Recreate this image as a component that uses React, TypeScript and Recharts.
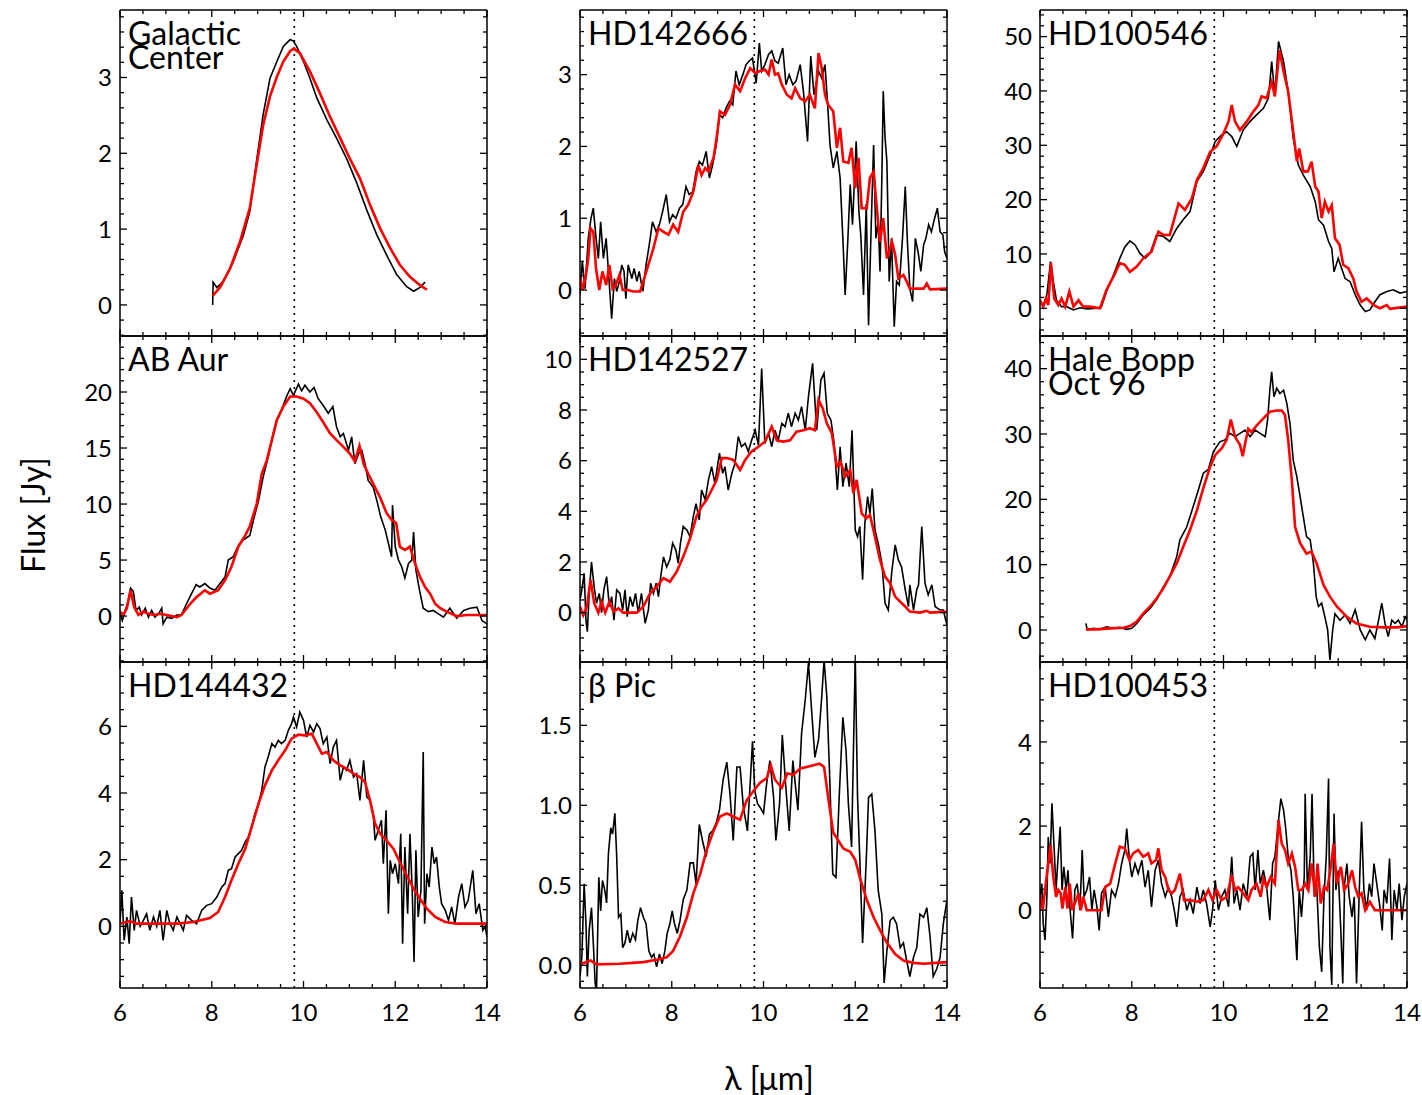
import React from 'react';
import { LineChart, Line, XAxis, YAxis, ReferenceLine } from 'recharts';

type Pt = [number, number];

// wavelength axis (micron) and the dotted marker at the 9.8 micron feature
const wavelengthTicks = [6, 8, 10, 12, 14];
const featurePeak = 9.8;

// ---- Galactic Center ----
const gcObs: Pt[] = [
  [8.02, 0], [8.03, 0.3], [8.11, 0.23], [8.25, 0.31], [8.47, 0.57], [8.69, 0.92], [8.83, 1.23], [8.98, 1.91],
  [9.12, 2.51], [9.27, 2.99], [9.42, 3.21], [9.56, 3.41], [9.71, 3.5], [9.78, 3.48], [9.85, 3.41], [10.0, 3.21],
  [10.14, 2.99], [10.29, 2.73], [10.51, 2.44], [10.72, 2.2], [10.94, 1.93], [11.16, 1.61], [11.38, 1.25],
  [11.6, 0.92], [11.81, 0.66], [12.03, 0.4], [12.25, 0.24], [12.4, 0.18], [12.54, 0.23], [12.65, 0.3],
];
const gcModel: Pt[] = [
  [8.02, 0.12], [8.18, 0.23], [8.4, 0.48], [8.62, 0.84], [8.83, 1.28], [8.98, 1.85], [9.12, 2.37], [9.27, 2.75],
  [9.42, 3.01], [9.56, 3.21], [9.71, 3.35], [9.79, 3.38], [9.92, 3.32], [10.14, 3.08], [10.36, 2.79], [10.58, 2.48],
  [10.8, 2.2], [11.01, 1.93], [11.23, 1.67], [11.45, 1.32], [11.67, 1.01], [11.89, 0.75], [12.1, 0.53],
  [12.32, 0.37], [12.54, 0.26], [12.69, 0.2],
];

// ---- HD142666 ----
const hd142666Obs: Pt[] = [
  [6.0, -0.07], [6.05, 0.4], [6.11, 0.02], [6.18, 0.72], [6.24, 1.0], [6.29, 1.14], [6.35, 0.72], [6.4, 0.44],
  [6.45, 0.95], [6.51, 0.44], [6.57, 0.72], [6.62, 0.26], [6.69, -0.4], [6.75, 0.16], [6.8, -0.02], [6.86, 0.12],
  [6.91, 0.35], [6.96, 0.26], [7.0, -0.12], [7.05, 0.35], [7.13, 0.16], [7.18, 0.3], [7.24, 0.12], [7.29, 0.26],
  [7.37, -0.02], [7.44, 0.35], [7.51, 0.63], [7.58, 0.95], [7.66, 0.81], [7.73, 0.91], [7.8, 1.09], [7.88, 1.33],
  [7.95, 0.95], [8.02, 1.05], [8.09, 1.0], [8.17, 1.14], [8.24, 1.19], [8.31, 1.44], [8.38, 1.33], [8.46, 1.37],
  [8.53, 1.65], [8.6, 1.79], [8.67, 1.74], [8.75, 1.93], [8.82, 1.56], [8.89, 1.74], [8.97, 2.02], [9.04, 2.44],
  [9.11, 2.4], [9.18, 2.53], [9.26, 2.63], [9.33, 2.58], [9.4, 3.05], [9.47, 2.86], [9.55, 3.0], [9.62, 3.14],
  [9.69, 3.19], [9.76, 3.23], [9.84, 2.88], [9.91, 3.44], [9.96, 3.05], [10.03, 3.14], [10.11, 3.28],
  [10.18, 3.33], [10.25, 3.19], [10.32, 3.16], [10.42, 3.37], [10.49, 2.86], [10.56, 3.0], [10.64, 2.86],
  [10.71, 2.91], [10.8, 3.14], [10.87, 2.77], [10.96, 2.07], [11.03, 3.26], [11.1, 2.72], [11.2, 3.05],
  [11.27, 2.95], [11.34, 3.14], [11.39, 2.67], [11.45, 2.02], [11.52, 1.7], [11.6, 1.93], [11.67, 1.56],
  [11.73, 0.72], [11.78, -0.07], [11.84, 0.72], [11.89, 1.47], [11.94, 0.91], [12.02, 2.07], [12.08, 1.09],
  [12.12, 0.77], [12.18, -0.07], [12.24, 1.19], [12.29, -0.49], [12.34, 0.72], [12.4, 2.02], [12.45, 0.72],
  [12.5, 0.95], [12.54, 0.26], [12.58, 1.56], [12.61, 2.77], [12.65, 2.12], [12.69, 1.79], [12.74, 0.12],
  [12.79, 0.72], [12.85, -0.51], [12.9, 0.12], [12.96, 0.07], [13.03, 0.72], [13.09, 1.44], [13.14, 0.63],
  [13.19, 0.02], [13.25, -0.16], [13.31, 0.72], [13.37, 0.53], [13.43, 0.26], [13.49, 0.63], [13.54, 0.72],
  [13.6, 0.91], [13.66, 0.81], [13.73, 1.0], [13.79, 1.14], [13.85, 0.81], [13.91, 0.77], [13.95, 0.53], [14.0, 0.44],
];
const hd142666Model: Pt[] = [
  [6.0, 0.19], [6.06, 0], [6.13, 0.21], [6.18, 0.44], [6.23, 0.86], [6.29, 0.81], [6.35, 0.3], [6.42, 0],
  [6.49, 0.26], [6.57, 0.07], [6.64, 0.35], [6.71, 0.02], [6.78, 0.07], [6.86, 0.21], [6.93, 0], [7.05, 0],
  [7.16, -0.02], [7.31, -0.02], [7.38, 0.12], [7.49, 0.35], [7.6, 0.58], [7.71, 0.86], [7.82, 0.81], [7.93, 0.77],
  [8.03, 0.91], [8.14, 0.81], [8.25, 1.09], [8.36, 1.19], [8.47, 1.37], [8.58, 1.74], [8.65, 1.6], [8.73, 1.7],
  [8.8, 1.65], [8.91, 1.84], [8.98, 2.12], [9.05, 2.49], [9.16, 2.44], [9.27, 2.58], [9.38, 2.86], [9.49, 2.77],
  [9.6, 2.95], [9.71, 3.09], [9.82, 3.02], [9.92, 3.05], [10.03, 3.07], [10.11, 3.0], [10.18, 3.21], [10.25, 3.0],
  [10.32, 3.02], [10.4, 2.86], [10.51, 2.72], [10.61, 2.67], [10.69, 2.81], [10.8, 2.67], [10.91, 2.63],
  [11.01, 2.72], [11.12, 2.53], [11.2, 3.3], [11.27, 3.09], [11.34, 2.72], [11.41, 2.58], [11.52, 2.49],
  [11.6, 1.98], [11.67, 2.26], [11.74, 1.79], [11.85, 1.77], [11.92, 1.98], [12.0, 1.42], [12.07, 1.84],
  [12.14, 1.14], [12.25, 1.14], [12.32, 1.56], [12.4, 1.65], [12.47, 1.14], [12.54, 0.67], [12.61, 1.0],
  [12.69, 0.44], [12.8, 0.67], [12.87, 0.49], [12.94, 0.16], [13.05, 0.21], [13.12, 0.12], [13.19, 0.02],
  [13.49, 0.02], [13.56, 0.09], [13.63, 0.01], [14.0, 0.02],
];

// ---- HD100546 ----
const hd100546Obs: Pt[] = [
  [6.0, 1.5], [6.07, 0.3], [6.15, 2.5], [6.23, 8.6], [6.29, 4.9], [6.36, 1.5], [6.47, 0.3], [6.58, 0.3],
  [6.73, -0.3], [6.87, 0.1], [7.02, -0.1], [7.24, 0], [7.34, 0.3], [7.45, 3.1], [7.6, 6.1], [7.74, 9.2],
  [7.85, 11.3], [7.96, 12.4], [8.07, 11.7], [8.18, 10.1], [8.29, 9.2], [8.4, 10.1], [8.54, 13.5], [8.69, 13.2],
  [8.83, 12.3], [8.98, 14.7], [9.12, 16.3], [9.27, 17.8], [9.42, 23.3], [9.56, 25.2], [9.71, 28.2], [9.82, 30.7],
  [9.96, 31.9], [10.07, 32.5], [10.18, 31.6], [10.29, 29.8], [10.43, 32.8], [10.58, 34.4], [10.72, 35.6],
  [10.87, 36.8], [10.98, 38.7], [11.05, 45.4], [11.12, 39.3], [11.2, 49.1], [11.31, 45.4], [11.41, 39.9],
  [11.52, 31.3], [11.63, 26.4], [11.74, 24.5], [11.89, 22.4], [12.0, 19.6], [12.07, 16.3], [12.18, 15.3],
  [12.29, 12.3], [12.36, 11.0], [12.41, 6.7], [12.5, 9.2], [12.65, 5.5], [12.76, 4.9], [12.87, 2.5], [12.98, 0.6],
  [13.09, -0.6], [13.19, -0.3], [13.3, 1.2], [13.41, 2.5], [13.56, 3.1], [13.7, 3.4], [13.85, 2.8], [14.0, 3.1],
];
const hd100546Model: Pt[] = [
  [6.0, 1.5], [6.07, 0.3], [6.13, 1.8], [6.18, 0.6], [6.24, 8.3], [6.31, 1.8], [6.4, 0.6], [6.47, 1.8], [6.55, 0.3],
  [6.64, 3.1], [6.73, 0.3], [6.84, 1.5], [6.94, 0.3], [7.09, 0.3], [7.31, 0], [7.45, 3.4], [7.6, 5.8], [7.74, 8.3],
  [7.85, 8.0], [7.96, 6.7], [8.11, 7.7], [8.25, 9.2], [8.43, 10.4], [8.58, 14.1], [8.69, 13.5], [8.83, 13.5],
  [9.02, 19.3], [9.16, 18.1], [9.31, 20.2], [9.42, 23.6], [9.56, 25.8], [9.71, 28.8], [9.85, 29.8], [10.0, 32.2],
  [10.11, 34.4], [10.18, 37.4], [10.25, 34.4], [10.36, 32.8], [10.51, 34.4], [10.65, 36.2], [10.76, 37.4],
  [10.83, 39.0], [10.94, 38.7], [11.05, 41.7], [11.12, 39.0], [11.22, 47.5], [11.31, 43.6], [11.41, 39.9],
  [11.52, 32.5], [11.6, 27.0], [11.65, 29.4], [11.74, 25.2], [11.84, 25.2], [11.92, 27.0], [12.0, 22.4],
  [12.07, 21.5], [12.14, 16.6], [12.21, 19.6], [12.29, 17.8], [12.36, 19.0], [12.43, 12.9], [12.53, 11.7],
  [12.61, 8.0], [12.72, 7.4], [12.83, 5.5], [12.9, 3.1], [13.01, 1.2], [13.12, 1.8], [13.27, 0.6], [13.41, 0],
  [13.56, 0.6], [13.63, -0.1], [14.0, 0.3],
];

// ---- AB Aur ----
const abAurObs: Pt[] = [
  [6.0, 0.2], [6.05, -0.4], [6.11, 0.4], [6.18, 1.4], [6.23, 2.5], [6.29, 2.2], [6.35, 0.5], [6.42, 0.8], [6.47, 0.1],
  [6.55, 0.7], [6.62, -0.1], [6.69, 0.5], [6.76, -0.1], [6.84, 0.2], [6.91, 0.7], [6.94, -0.7], [7.02, -0.1],
  [7.13, -0.2], [7.24, 0.1], [7.34, 0.1], [7.45, 1.1], [7.56, 2.0], [7.66, 2.8], [7.74, 2.6], [7.85, 2.9],
  [7.96, 2.5], [8.07, 2.3], [8.18, 2.9], [8.29, 3.5], [8.36, 5.0], [8.47, 5.3], [8.58, 6.3], [8.69, 6.8],
  [8.83, 7.2], [8.91, 8.6], [9.02, 10.3], [9.12, 12.4], [9.23, 14.2], [9.34, 16.3], [9.42, 17.5], [9.52, 18.4],
  [9.63, 19.6], [9.71, 20.3], [9.78, 19.7], [9.89, 20.7], [9.96, 20.1], [10.03, 20.6], [10.14, 20.0],
  [10.23, 20.4], [10.32, 19.4], [10.43, 18.8], [10.54, 18.1], [10.64, 18.7], [10.72, 16.9], [10.8, 16.0],
  [10.87, 16.3], [10.98, 14.8], [11.05, 16.0], [11.12, 13.6], [11.2, 14.5], [11.27, 14.8], [11.34, 13.6],
  [11.41, 12.1], [11.52, 11.5], [11.6, 10.3], [11.68, 8.9], [11.78, 7.7], [11.85, 6.5], [11.92, 5.3], [11.94, 9.9],
  [12.0, 6.2], [12.07, 5.0], [12.14, 4.4], [12.21, 3.4], [12.29, 4.7], [12.36, 5.0], [12.4, 7.5], [12.45, 4.1],
  [12.53, 2.3], [12.61, 0.7], [12.72, 0.4], [12.83, 0.5], [12.94, 0.2], [13.05, -0.1], [13.19, 0.7], [13.34, -0.2],
  [13.49, 0.5], [13.63, 0.7], [13.78, 0.8], [13.89, -0.4], [14.0, -0.7],
];
const abAurModel: Pt[] = [
  [6.0, 0.4], [6.07, 0.1], [6.15, 0.7], [6.23, 2.3], [6.31, 0.8], [6.4, 0.1], [6.51, 0.4], [6.62, 0.2], [6.73, 0.1],
  [6.87, 0.2], [7.02, 0.1], [7.24, -0.1], [7.34, 0.1], [7.53, 1.1], [7.67, 1.7], [7.85, 2.3], [7.96, 2.0],
  [8.14, 2.3], [8.29, 3.2], [8.43, 4.4], [8.58, 6.2], [8.73, 7.2], [8.83, 8.0], [8.98, 10.0], [9.09, 12.7],
  [9.2, 13.9], [9.31, 15.7], [9.42, 17.5], [9.56, 18.7], [9.71, 19.6], [9.85, 19.6], [10.0, 19.4], [10.14, 19.0],
  [10.29, 18.2], [10.43, 17.3], [10.58, 16.3], [10.72, 15.7], [10.87, 15.1], [11.01, 14.5], [11.12, 13.8],
  [11.22, 15.2], [11.31, 13.6], [11.41, 12.7], [11.52, 11.8], [11.67, 10.6], [11.81, 9.2], [11.92, 8.6],
  [12.02, 8.3], [12.1, 6.2], [12.21, 5.9], [12.32, 6.2], [12.43, 4.7], [12.54, 3.5], [12.65, 2.6], [12.76, 2.0],
  [12.87, 1.1], [12.98, 0.7], [13.12, 0.4], [13.34, 0], [13.56, 0.1], [14.0, 0.1],
];

// ---- HD142527 ----
const hd142527Obs: Pt[] = [
  [6.0, 0.5], [6.04, 0.9], [6.09, 1.55], [6.13, -0.3], [6.16, -0.75], [6.2, 0.76], [6.25, 2.0], [6.31, 1.0],
  [6.36, 0.37], [6.42, 0.76], [6.47, 0], [6.52, 0.9], [6.58, 1.42], [6.64, 0.24], [6.69, 0.63], [6.74, -0.3],
  [6.8, 0.9], [6.87, 0.76], [6.93, 0.1], [6.98, 0.9], [7.03, -0.16], [7.09, 0.63], [7.15, 0.24], [7.21, 0.76],
  [7.27, 0], [7.34, 0.76], [7.42, -0.42], [7.49, 0.1], [7.54, 1.16], [7.6, 0.76], [7.66, 1.16], [7.71, 0.63],
  [7.76, 1.42], [7.82, 2.2], [7.89, 1.8], [7.96, 2.1], [8.02, 2.74], [8.09, 2.47], [8.14, 1.95], [8.19, 2.74],
  [8.25, 3.4], [8.33, 3.26], [8.4, 3.0], [8.47, 3.8], [8.53, 4.3], [8.6, 3.66], [8.65, 4.84], [8.73, 4.45],
  [8.8, 5.24], [8.87, 5.76], [8.94, 5.1], [9.04, 6.3], [9.11, 5.5], [9.16, 5.76], [9.23, 4.84], [9.31, 5.5],
  [9.38, 5.9], [9.45, 6.95], [9.52, 6.55], [9.6, 6.68], [9.67, 6.36], [9.74, 6.8], [9.82, 7.2], [9.89, 6.6],
  [9.96, 9.64], [10.03, 6.68], [10.11, 7.08], [10.18, 6.55], [10.25, 7.2], [10.32, 6.8], [10.4, 7.47],
  [10.47, 7.34], [10.54, 7.87], [10.61, 7.34], [10.69, 7.87], [10.76, 7.6], [10.83, 8.13], [10.91, 7.2],
  [10.98, 8.53], [11.07, 9.84], [11.16, 7.2], [11.25, 9.18], [11.32, 9.45], [11.39, 7.87], [11.47, 7.6],
  [11.54, 6.68], [11.61, 4.84], [11.67, 6.55], [11.73, 4.97], [11.8, 5.9], [11.87, 4.97], [11.93, 7.2],
  [12.0, 3.26], [12.05, 3.0], [12.1, 3.4], [12.16, 1.3], [12.21, 3.53], [12.27, 4.58], [12.32, 3.92], [12.37, 4.9],
  [12.43, 3.26], [12.5, 2.74], [12.58, 1.95], [12.65, 0.37], [12.72, 0.1], [12.8, 1.68], [12.87, 2.67],
  [12.94, 2.08], [13.01, 1.8], [13.09, 0.9], [13.16, 0.24], [13.19, 1.1], [13.27, 0.1], [13.34, 0.9], [13.38, 1.1],
  [13.45, 3.4], [13.52, 1.16], [13.59, 0.7], [13.67, 1.1], [13.74, 0.24], [13.85, 0.1], [13.92, 0.1], [14.0, -0.5],
];
const hd142527Model: Pt[] = [
  [6.0, 0.24], [6.07, -0.1], [6.15, 0.24], [6.23, 1.3], [6.31, 0.37], [6.4, 0], [6.47, 0.43], [6.55, 0], [6.64, 0.43],
  [6.73, 0.04], [6.84, 0.17], [6.94, 0], [7.24, 0], [7.38, 0.24], [7.53, 0.76], [7.67, 1.03], [7.82, 1.36],
  [7.96, 1.22], [8.11, 1.62], [8.25, 2.2], [8.4, 2.93], [8.54, 3.8], [8.65, 4.18], [8.76, 4.45], [8.87, 4.84],
  [8.98, 5.24], [9.09, 6.1], [9.2, 6.1], [9.34, 6.03], [9.49, 5.63], [9.6, 6.03], [9.74, 6.36], [9.89, 6.55],
  [10.03, 6.75], [10.18, 7.34], [10.29, 6.8], [10.43, 6.75], [10.58, 6.8], [10.72, 7.14], [10.87, 7.2],
  [11.01, 7.28], [11.12, 7.2], [11.2, 8.4], [11.29, 8.07], [11.38, 7.47], [11.49, 7.08], [11.6, 5.76],
  [11.68, 5.96], [11.78, 5.37], [11.89, 5.63], [11.96, 4.71], [12.03, 5.24], [12.14, 3.92], [12.24, 3.72],
  [12.32, 3.86], [12.43, 3.0], [12.54, 2.08], [12.65, 1.42], [12.76, 1.16], [12.87, 0.63], [12.98, 0.43],
  [13.09, 0.24], [13.19, 0.04], [13.41, 0], [13.56, 0.07], [13.63, 0], [14.0, 0.04],
];

// ---- Hale Bopp, Oct 96 ----
const haleBoppObs: Pt[] = [
  [7.0, 1.0], [7.03, 0], [7.16, 0.25], [7.31, 0.1], [7.45, 0.5], [7.6, 0.25], [7.74, 0.4], [7.89, 0.1], [8.0, 0.25],
  [8.11, 1.0], [8.25, 2.3], [8.4, 3.3], [8.54, 4.6], [8.69, 6.6], [8.83, 8.2], [8.98, 11.2], [9.05, 13.8],
  [9.2, 15.8], [9.34, 18.9], [9.45, 21.4], [9.56, 24.0], [9.67, 24.6], [9.78, 27.3], [9.92, 28.8], [10.03, 29.1],
  [10.14, 30.1], [10.25, 29.6], [10.36, 30.1], [10.47, 30.6], [10.58, 29.6], [10.69, 30.6], [10.8, 30.1],
  [10.91, 29.6], [10.96, 32.1], [11.01, 36.7], [11.05, 39.5], [11.1, 35.7], [11.16, 37.0], [11.23, 36.2],
  [11.31, 36.7], [11.38, 34.7], [11.45, 31.6], [11.52, 26.0], [11.6, 23.4], [11.67, 20.4], [11.74, 17.3],
  [11.81, 14.3], [11.89, 13.8], [11.96, 10.2], [12.02, 5.1], [12.07, 3.6], [12.14, 4.1], [12.21, 2.0], [12.27, 0],
  [12.32, -4.6], [12.38, 0], [12.43, 2.5], [12.54, 1.5], [12.65, 2.3], [12.76, 1.0], [12.87, 3.1], [12.98, 0],
  [13.09, -1.5], [13.19, 0], [13.3, -1.3], [13.38, 1.5], [13.45, 4.1], [13.52, 1.0], [13.59, -1.0], [13.67, 1.5],
  [13.74, 1.0], [13.81, 1.5], [13.89, 0.5], [13.96, 2.0], [14.0, 1.5],
];
const haleBoppModel: Pt[] = [
  [7.0, 0.1], [7.24, 0.1], [7.53, 0.25], [7.82, 0.35], [7.96, 0.6], [8.11, 1.3], [8.25, 2.5], [8.4, 3.6], [8.54, 4.8],
  [8.69, 6.4], [8.83, 8.2], [8.98, 10.2], [9.12, 12.7], [9.27, 15.3], [9.42, 18.3], [9.56, 21.7], [9.71, 25.0],
  [9.82, 26.8], [9.96, 27.8], [10.07, 29.1], [10.16, 32.2], [10.25, 29.6], [10.36, 28.3], [10.42, 26.6],
  [10.47, 28.5], [10.54, 30.8], [10.61, 30.3], [10.72, 31.3], [10.87, 32.4], [11.01, 33.4], [11.16, 33.6],
  [11.27, 33.6], [11.34, 32.9], [11.41, 29.1], [11.49, 22.9], [11.56, 15.8], [11.67, 13.3], [11.81, 11.7],
  [11.92, 12.0], [12.03, 10.2], [12.18, 6.9], [12.32, 5.1], [12.47, 3.6], [12.69, 2.0], [12.9, 1.0], [13.19, 0.5],
  [13.49, 0.4], [13.78, 0.4], [14.0, 0.6],
];

// ---- HD144432 ----
const hd144432Obs: Pt[] = [
  [6.0, 0.08], [6.04, 1.08], [6.09, -0.42], [6.15, 0.28], [6.2, -0.52], [6.25, 0.88], [6.31, -0.12], [6.36, 0.48],
  [6.44, 0], [6.51, 0.18], [6.58, 0.38], [6.65, -0.12], [6.73, 0.28], [6.8, 0], [6.87, 0.48], [6.94, -0.42],
  [7.02, 0.48], [7.09, 0.08], [7.16, -0.12], [7.24, 0.28], [7.31, 0.08], [7.38, -0.12], [7.45, 0.33], [7.56, 0.18],
  [7.67, 0.08], [7.78, 0.48], [7.89, 0.63], [8.0, 0.68], [8.11, 0.88], [8.22, 1.18], [8.29, 1.28], [8.36, 1.68],
  [8.43, 1.73], [8.51, 2.08], [8.58, 2.18], [8.65, 2.28], [8.73, 2.53], [8.8, 2.68], [8.87, 2.98], [8.94, 3.38],
  [9.02, 3.68], [9.09, 4.08], [9.16, 4.78], [9.23, 5.08], [9.31, 5.48], [9.38, 5.38], [9.45, 5.58], [9.52, 5.48],
  [9.6, 5.58], [9.67, 5.88], [9.74, 6.08], [9.78, 6.28], [9.85, 5.98], [9.92, 6.43], [10.0, 6.18], [10.07, 5.68],
  [10.14, 6.03], [10.22, 5.83], [10.29, 6.08], [10.36, 5.93], [10.43, 5.48], [10.51, 5.68], [10.58, 4.88],
  [10.65, 5.38], [10.72, 5.58], [10.8, 4.38], [10.87, 4.78], [10.94, 4.68], [11.01, 4.98], [11.09, 4.48],
  [11.16, 4.58], [11.23, 3.78], [11.31, 4.98], [11.38, 3.88], [11.45, 3.78], [11.52, 3.38], [11.56, 2.58],
  [11.63, 2.88], [11.7, 3.18], [11.74, 1.88], [11.8, 3.48], [11.85, 0.38], [11.89, 1.98], [11.94, 1.58],
  [12.0, 1.88], [12.07, 1.28], [12.12, 2.78], [12.16, -0.52], [12.21, 2.38], [12.27, 0.38], [12.32, 2.78],
  [12.37, 1.08], [12.41, -1.07], [12.45, 2.28], [12.5, 0.28], [12.56, 1.08], [12.61, 5.23], [12.64, 0.08],
  [12.69, 1.58], [12.74, 1.18], [12.8, 2.38], [12.85, 1.88], [12.9, 2.08], [12.96, 1.18], [13.01, 0.68],
  [13.09, 0.48], [13.16, 0.18], [13.23, 0.58], [13.3, 0.08], [13.38, 0.88], [13.45, 1.28], [13.52, 0.58],
  [13.59, 0.78], [13.69, 1.68], [13.76, 0.38], [13.83, 0.68], [13.91, -0.12], [13.96, 0], [14.0, -0.32],
];
const hd144432Model: Pt[] = [
  [6.0, 0.08], [6.22, 0.16], [6.36, 0.08], [7.24, 0.08], [7.6, 0.13], [7.96, 0.25], [8.14, 0.43], [8.29, 0.88],
  [8.43, 1.38], [8.58, 1.88], [8.73, 2.33], [8.87, 2.98], [9.02, 3.68], [9.16, 4.23], [9.31, 4.68], [9.45, 4.98],
  [9.6, 5.28], [9.74, 5.63], [9.89, 5.75], [10.03, 5.73], [10.18, 5.78], [10.29, 5.48], [10.4, 5.18], [10.51, 5.23],
  [10.65, 4.98], [10.8, 4.83], [10.94, 4.73], [11.09, 4.58], [11.23, 4.48], [11.34, 4.33], [11.45, 3.78],
  [11.56, 3.08], [11.67, 2.78], [11.81, 2.58], [11.96, 2.33], [12.1, 1.93], [12.25, 1.53], [12.4, 1.13],
  [12.54, 0.83], [12.69, 0.53], [12.87, 0.28], [13.09, 0.13], [13.34, 0.08], [14.0, 0.08],
];

// ---- beta Pic ----
const betaPicObs: Pt[] = [
  [6.0, -0.07], [6.04, 0.05], [6.09, 0.51], [6.13, 0.26], [6.16, -0.07], [6.2, 0.22], [6.25, 0.36], [6.29, 0.14],
  [6.33, -0.11], [6.36, -0.16], [6.41, 0.55], [6.45, 0.34], [6.49, 0.53], [6.54, 0.47], [6.58, 0.39], [6.62, 0.7],
  [6.67, 0.86], [6.71, 0.82], [6.76, 0.95], [6.8, 0.68], [6.84, 0.3], [6.89, 0.32], [6.93, 0.11], [6.98, 0.14],
  [7.03, 0.22], [7.09, 0.14], [7.15, 0.2], [7.21, 0.16], [7.26, 0.28], [7.32, 0.36], [7.38, 0.3], [7.44, 0.26],
  [7.5, 0.09], [7.56, 0.05], [7.61, 0.07], [7.67, -0.01], [7.73, 0.07], [7.79, 0.01], [7.85, 0.09], [7.9, 0.2],
  [7.96, 0.26], [8.01, 0.34], [8.06, 0.26], [8.12, 0.2], [8.18, 0.28], [8.25, 0.41], [8.33, 0.47], [8.4, 0.64],
  [8.47, 0.64], [8.53, 0.51], [8.6, 0.88], [8.67, 0.78], [8.75, 0.68], [8.82, 0.82], [8.89, 0.84], [8.97, 0.89],
  [9.04, 0.97], [9.12, 1.16], [9.2, 1.27], [9.27, 1.07], [9.34, 0.78], [9.42, 1.24], [9.49, 1.24], [9.56, 0.99],
  [9.65, 0.84], [9.71, 1.14], [9.76, 1.4], [9.81, 1.09], [9.87, 1.01], [9.92, 0.99], [10.0, 0.95], [10.07, 1.14],
  [10.14, 1.28], [10.22, 1.05], [10.27, 0.78], [10.35, 1.01], [10.41, 1.44], [10.48, 1.14], [10.56, 0.84],
  [10.64, 1.28], [10.69, 1.14], [10.75, 0.97], [10.83, 1.45], [10.91, 1.66], [10.98, 1.89], [11.05, 1.59],
  [11.12, 1.3], [11.2, 1.41], [11.27, 1.68], [11.32, 1.91], [11.38, 1.68], [11.44, 1.2], [11.51, 0.57],
  [11.58, 0.55], [11.65, 1.05], [11.73, 1.55], [11.8, 1.34], [11.85, 1.01], [11.92, 0.74], [12.0, 1.93],
  [12.05, 1.05], [12.1, 0.66], [12.16, 0.14], [12.24, 0.66], [12.29, 1.05], [12.36, 1.07], [12.43, 0.84],
  [12.5, 0.47], [12.58, 0.32], [12.63, -0.11], [12.69, 0.09], [12.76, 0.28], [12.83, 0.3], [12.9, 0.26],
  [12.98, 0.11], [13.05, 0.14], [13.12, 0.03], [13.19, -0.07], [13.27, 0.05], [13.34, 0.11], [13.41, 0.32],
  [13.49, 0.3], [13.56, 0.36], [13.63, 0.18], [13.7, -0.07], [13.78, -0.02], [13.85, 0.05], [13.92, 0.26], [14.0, 0.41],
];
const betaPicModel: Pt[] = [
  [6.0, 0.006], [6.23, 0.03], [6.36, 0.006], [6.87, 0.01], [7.38, 0.02], [7.67, 0.035], [7.89, 0.05], [8.03, 0.09],
  [8.18, 0.18], [8.33, 0.3], [8.47, 0.45], [8.62, 0.57], [8.76, 0.72], [8.91, 0.84], [9.05, 0.93], [9.2, 0.95],
  [9.34, 0.93], [9.49, 0.91], [9.63, 1.03], [9.78, 1.09], [9.92, 1.14], [10.07, 1.17], [10.16, 1.25], [10.25, 1.16],
  [10.4, 1.11], [10.52, 1.2], [10.65, 1.19], [10.8, 1.23], [10.94, 1.24], [11.09, 1.25], [11.22, 1.26],
  [11.32, 1.24], [11.41, 1.05], [11.52, 0.83], [11.63, 0.78], [11.74, 0.73], [11.89, 0.71], [12.0, 0.66],
  [12.1, 0.55], [12.25, 0.41], [12.4, 0.3], [12.54, 0.22], [12.69, 0.14], [12.87, 0.07], [13.05, 0.03],
  [13.27, 0.015], [13.49, 0.01], [14.0, 0.02],
];

// ---- HD100453 ----
const hd100453Obs: Pt[] = [
  [6.0, 0.32], [6.04, 0.63], [6.07, -0.32], [6.11, -0.71], [6.15, 0.32], [6.18, 1.74], [6.22, 1.11], [6.26, 2.54],
  [6.31, 1.43], [6.35, 0.48], [6.39, 1.19], [6.44, 1.98], [6.48, 0.48], [6.52, 1.03], [6.57, 0.48], [6.61, 0.95],
  [6.65, 0.08], [6.71, -0.67], [6.76, 0.48], [6.81, 0.63], [6.87, 0], [6.92, 1.43], [6.96, 0.32], [7.02, 0.48],
  [7.08, 0.79], [7.13, 0], [7.18, 0.48], [7.24, 0.08], [7.29, -0.48], [7.34, 0.4], [7.42, 0.55], [7.49, -0.16],
  [7.56, 0.48], [7.64, 0.32], [7.71, 0.63], [7.78, 1.11], [7.85, 1.43], [7.89, 1.94], [7.95, 1.19], [8.0, 0.79],
  [8.07, 1.11], [8.14, 0.87], [8.22, 1.19], [8.29, 0.55], [8.36, 0.95], [8.43, 0.08], [8.51, 0.95], [8.58, 1.19],
  [8.65, 0.63], [8.73, 0.32], [8.8, 0.55], [8.87, 0.32], [8.94, -0.08], [8.98, -0.4], [9.05, 0.32], [9.12, 0.48],
  [9.2, 0], [9.27, 0.24], [9.34, -0.08], [9.42, 0.55], [9.49, 0.16], [9.56, 0.48], [9.63, 0.16], [9.71, -0.4],
  [9.76, 0], [9.82, 0.71], [9.89, 0], [9.96, 0.32], [10.03, 0.48], [10.11, 0.08], [10.18, 1.27], [10.23, 0.16],
  [10.29, 0.48], [10.36, 0], [10.43, 0.63], [10.51, 0.32], [10.58, 1.27], [10.64, 1.35], [10.69, 0.48],
  [10.75, 1.43], [10.8, 0.63], [10.87, 0.95], [10.94, 0.55], [11.01, -0.24], [11.07, 1.11], [11.12, 1.27],
  [11.2, 2.14], [11.25, 2.65], [11.31, 2.38], [11.36, 1.9], [11.41, 1.27], [11.47, 0.95], [11.52, 0.32],
  [11.57, -0.63], [11.6, -1.19], [11.65, 0.48], [11.7, -0.16], [11.76, 0.79], [11.78, 2.77], [11.83, 0.48],
  [11.89, 1.27], [11.93, 2.77], [11.98, 0.32], [12.03, 0.63], [12.09, -0.87], [12.14, -1.47], [12.19, 0.32],
  [12.24, 1.27], [12.29, 3.13], [12.32, -0.87], [12.36, -1.78], [12.41, 2.3], [12.45, 0.48], [12.5, 0.95],
  [12.56, -0.55], [12.6, -1.74], [12.64, 0.63], [12.69, 1.11], [12.74, 0.32], [12.8, -0.16], [12.85, 0.32],
  [12.9, -1.74], [12.96, 0.48], [13.01, 2.1], [13.06, 0.48], [13.12, 0], [13.18, 0.63], [13.23, 0.32], [13.28, 1.11],
  [13.34, 0.63], [13.4, 0.16], [13.46, -0.48], [13.5, 0.48], [13.56, 0.16], [13.62, 1.23], [13.67, -0.71],
  [13.72, 0.48], [13.78, 0], [13.83, 0.63], [13.89, -0.24], [13.94, 0.32], [14.0, 0.63],
];
const hd100453Model: Pt[] = [
  [6.0, 0.36], [6.06, 0], [6.11, 0.48], [6.18, 1.11], [6.23, 1.55], [6.29, 0.79], [6.35, 0.32], [6.4, 0.48],
  [6.45, 0.4], [6.49, 0.04], [6.55, 0.55], [6.6, 0.04], [6.65, 0.63], [6.7, 0], [6.76, 0.16], [6.84, 0.4], [6.89, 0],
  [6.94, 0.32], [7.02, 0], [7.34, 0], [7.42, 0.55], [7.53, 0.63], [7.64, 1.11], [7.74, 1.51], [7.85, 1.47],
  [7.95, 1.19], [8.03, 1.35], [8.14, 1.43], [8.25, 1.27], [8.36, 1.35], [8.43, 1.11], [8.53, 1.19], [8.58, 1.47],
  [8.65, 0.95], [8.73, 0.79], [8.8, 0.48], [8.87, 0.4], [8.94, 0.48], [9.05, 0.87], [9.14, 0.24], [9.27, 0.24],
  [9.42, 0.2], [9.56, 0.24], [9.67, 0.48], [9.76, 0.24], [9.85, 0.48], [9.96, 0.24], [10.07, 0.32], [10.18, 0.83],
  [10.25, 0.48], [10.32, 0.55], [10.43, 0.4], [10.54, 0.24], [10.61, 0.48], [10.72, 0.63], [10.81, 0.32],
  [10.87, 0.75], [10.94, 0.55], [11.03, 0.79], [11.12, 0.63], [11.2, 2.14], [11.27, 1.58], [11.34, 1.43],
  [11.41, 1.11], [11.49, 1.35], [11.56, 1.03], [11.63, 0.48], [11.7, 0.48], [11.78, 0.63], [11.85, 0.48],
  [11.92, 1.11], [12.0, 0.32], [12.05, 1.11], [12.12, 0.16], [12.19, 0.55], [12.26, 0.48], [12.34, 1.03],
  [12.4, 1.58], [12.47, 0.63], [12.56, 1.03], [12.63, 0.48], [12.72, 0.63], [12.8, 0.95], [12.87, 0.55],
  [12.94, 0.32], [13.01, 0.4], [13.09, 0], [13.19, 0.2], [13.3, 0], [14.0, 0],
];

// ---- layout ----
const FONT = 'Lato, "DejaVu Sans", sans-serif';
const COLS = [120, 580, 1040];
const ROWS = [10, 336, 662];
const PW = 367;
const PH = 326;
const OUT = { top: 10, right: 14, bottom: 50, left: 70 };
// axes take 1px each (recharts skips axes of size 0), so the margin gives that pixel back
const M = { top: OUT.top - 1, right: OUT.right - 1, bottom: OUT.bottom - 1, left: OUT.left - 1 };
const axisStyle = { stroke: '#000', strokeWidth: 1.5 };

const toRows = (pts: Pt[]) => pts.map(([x, y]) => ({ x, y }));

function ticksBetween(lo: number, hi: number, step: number) {
  const out: number[] = [];
  for (let v = Math.ceil(lo / step - 1e-9) * step; v <= hi + 1e-9; v += step) {
    out.push(Math.round(v * 1000) / 1000);
  }
  return out;
}

// inward IDL-style tick, with label only on major ticks when asked
function FrameTick(props: any) {
  const { x, y, payload, side, majors, showLabel, digits } = props;
  const v = payload.value;
  const major = majors.some((m: number) => Math.abs(m - v) < 1e-6);
  const len = major ? 7 : 4;
  let line: any = null;
  let label: any = null;
  const txt = digits ? v.toFixed(digits) : String(Math.round(v));
  if (side === 'bottom') {
    line = <line x1={x} x2={x} y1={y} y2={y - len} />;
    if (major && showLabel)
      label = <text x={x} y={y + 33} textAnchor="middle">{txt}</text>;
  } else if (side === 'top') {
    line = <line x1={x} x2={x} y1={y} y2={y + len} />;
  } else if (side === 'left') {
    line = <line x1={x} x2={x + len} y1={y} y2={y} />;
    if (major && showLabel)
      label = <text x={x - 8} y={y} dy="0.36em" textAnchor="end">{txt}</text>;
  } else {
    line = <line x1={x} x2={x - len} y1={y} y2={y} />;
  }
  return (
    <g stroke="#000" strokeWidth={1.3}>
      {line}
      {label && (
        <g stroke="none" fill="#000" fontFamily={FONT} fontSize={24}>
          {label}
        </g>
      )}
    </g>
  );
}

interface PanelProps {
  col: number;
  row: number;
  obs: Pt[];
  model: Pt[];
  yDomain: [number, number];
  yMajors: number[];
  yStep: number;
  yDigits?: number;
  title: string[];
}

function Panel({ col, row, obs, model, yDomain, yMajors, yStep, yDigits = 0, title }: PanelProps) {
  const xTicks = ticksBetween(6, 14, 0.5);
  const yTicks = ticksBetween(yDomain[0], yDomain[1], yStep);
  const showX = row === 2;
  return (
    <div style={{ position: 'absolute', left: COLS[col] - OUT.left, top: ROWS[row] - OUT.top }}>
      <LineChart width={PW + OUT.left + OUT.right} height={PH + OUT.top + OUT.bottom} margin={M}>
        <XAxis
          xAxisId="b" type="number" dataKey="x" domain={[6, 14]} allowDataOverflow
          ticks={xTicks} interval={0} height={1} tickSize={0} tickMargin={0} tickLine={false}
          axisLine={axisStyle}
          tick={<FrameTick side="bottom" majors={wavelengthTicks} showLabel={showX} />}
        />
        <XAxis
          xAxisId="t" orientation="top" type="number" dataKey="x" domain={[6, 14]} allowDataOverflow
          ticks={xTicks} interval={0} height={1} tickSize={0} tickMargin={0} tickLine={false}
          axisLine={axisStyle}
          tick={<FrameTick side="top" majors={wavelengthTicks} />}
        />
        <YAxis
          yAxisId="l" type="number" domain={yDomain} allowDataOverflow
          ticks={yTicks} interval={0} width={1} tickSize={0} tickMargin={0} tickLine={false}
          axisLine={axisStyle}
          tick={<FrameTick side="left" majors={yMajors} showLabel digits={yDigits} />}
        />
        <YAxis
          yAxisId="r" orientation="right" type="number" domain={yDomain} allowDataOverflow
          ticks={yTicks} interval={0} width={1} tickSize={0} tickMargin={0} tickLine={false}
          axisLine={axisStyle}
          tick={<FrameTick side="right" majors={yMajors} />}
        />
        <ReferenceLine
          xAxisId="b" yAxisId="l" x={featurePeak}
          stroke="#000" strokeWidth={1.6} strokeDasharray="2 5"
        />
        <Line
          xAxisId="b" yAxisId="l" data={toRows(obs)} dataKey="y" type="linear"
          stroke="#000" strokeWidth={1.6} dot={false} isAnimationActive={false}
        />
        <Line
          xAxisId="b" yAxisId="l" data={toRows(model)} dataKey="y" type="linear"
          stroke="#ff0000" strokeWidth={2.6} dot={false} isAnimationActive={false}
        />
      </LineChart>
      <div
        style={{
          position: 'absolute', left: OUT.left + 8, top: OUT.top + 11,
          fontFamily: FONT, fontSize: 32, lineHeight: '24px', color: '#000', whiteSpace: 'nowrap',
        }}
      >
        {title.map((t) => (
          <div key={t}>{t}</div>
        ))}
      </div>
    </div>
  );
}

export default function App() {
  return (
    <div style={{ position: 'absolute', left: 0, top: 0, width: 1422, height: 1095, background: '#fff' }}>
      <Panel col={0} row={0} obs={gcObs} model={gcModel} yDomain={[-0.41, 3.89]} yMajors={[0, 1, 2, 3]} yStep={0.2} title={['Galactic', 'Center']} />
      <Panel col={1} row={0} obs={hd142666Obs} model={hd142666Model} yDomain={[-0.64, 3.9]} yMajors={[0, 1, 2, 3]} yStep={0.2} title={['HD142666']} />
      <Panel col={2} row={0} obs={hd100546Obs} model={hd100546Model} yDomain={[-5.1, 54.9]} yMajors={[0, 10, 20, 30, 40, 50]} yStep={2} title={['HD100546']} />
      <Panel col={0} row={1} obs={abAurObs} model={abAurModel} yDomain={[-4.1, 25]} yMajors={[0, 5, 10, 15, 20]} yStep={1} title={['AB Aur']} />
      <Panel col={1} row={1} obs={hd142527Obs} model={hd142527Model} yDomain={[-1.95, 10.92]} yMajors={[0, 2, 4, 6, 8, 10]} yStep={0.5} title={['HD142527']} />
      <Panel col={2} row={1} obs={haleBoppObs} model={haleBoppModel} yDomain={[-4.9, 45]} yMajors={[0, 10, 20, 30, 40]} yStep={2} title={['Hale Bopp', 'Oct 96']} />
      <Panel col={0} row={2} obs={hd144432Obs} model={hd144432Model} yDomain={[-1.85, 7.93]} yMajors={[0, 2, 4, 6]} yStep={0.5} title={['HD144432']} />
      <Panel col={1} row={2} obs={betaPicObs} model={betaPicModel} yDomain={[-0.142, 1.896]} yMajors={[0, 0.5, 1, 1.5]} yStep={0.1} yDigits={1} title={['β Pic']} />
      <Panel col={2} row={2} obs={hd100453Obs} model={hd100453Model} yDomain={[-1.85, 5.9]} yMajors={[0, 2, 4]} yStep={0.5} title={['HD100453']} />
      <div
        style={{
          position: 'absolute', left: 32, top: 515, transform: 'translate(-50%, -50%) rotate(-90deg)',
          fontFamily: FONT, fontSize: 32, whiteSpace: 'nowrap', color: '#000',
        }}
      >
        Flux [Jy]
      </div>
      <div
        style={{
          position: 'absolute', left: 769, top: 1077, transform: 'translate(-50%, -50%)',
          fontFamily: FONT, fontSize: 32, whiteSpace: 'nowrap', color: '#000',
        }}
      >
        λ [μm]
      </div>
    </div>
  );
}
